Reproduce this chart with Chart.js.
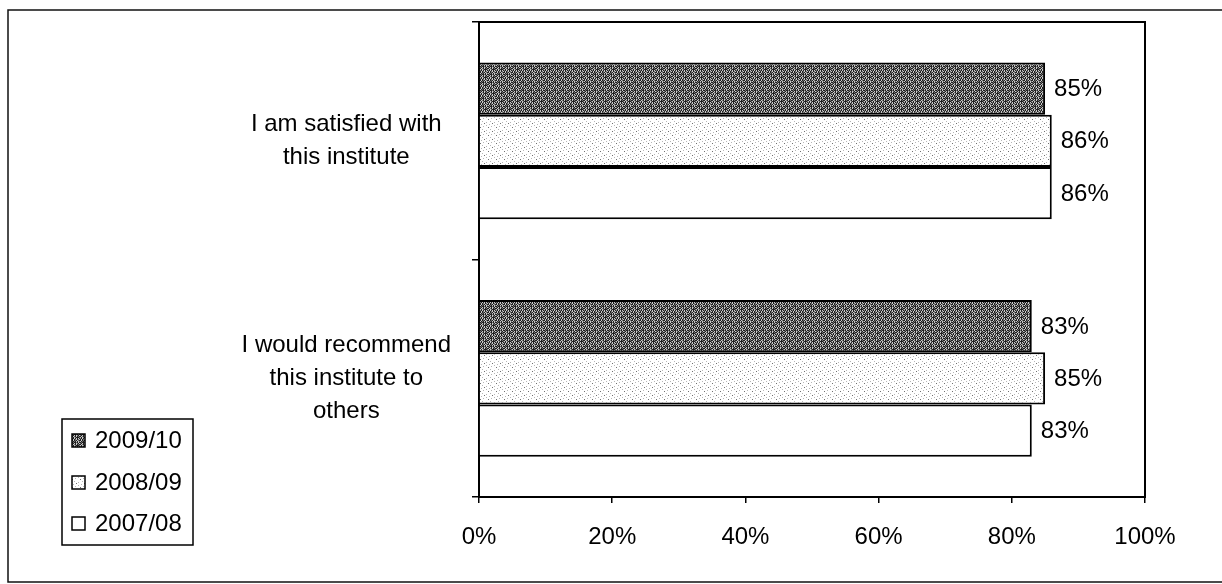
<!DOCTYPE html>
<html>
<head>
<meta charset="utf-8">
<script src="https://cdn.jsdelivr.net/npm/chart.js@4/dist/chart.umd.min.js"></script>
<style>
  html, body { margin: 0; padding: 0; background: #fff; }
  #wrap { width: 1222px; height: 584px; position: relative; }
</style>
</head>
<body>
<div id="wrap"><canvas id="c" width="1222" height="584"></canvas></div>
<script>
// Survey statements (multi-line labels) and yearly results in percent
const categories = [
  ['I am satisfied with', 'this institute'],
  ['I would recommend', 'this institute to', 'others']
];
const seriesNames = ['2009/10', '2008/09', '2007/08'];
const values2009_10 = [85, 83];
const values2008_09 = [86, 85];
const values2007_08 = [86, 83];
const xTickValues = [0, 20, 40, 60, 80, 100];

const FONT = '"Liberation Sans", Arial, sans-serif';

// Small tiled fills imitating printed halftone shading
function makeTile(rows, palette) {
  const c = document.createElement('canvas');
  c.width = rows[0].length;
  c.height = rows.length;
  const g = c.getContext('2d');
  rows.forEach((r, j) => {
    [...r].forEach((ch, i) => {
      g.fillStyle = palette[ch];
      g.fillRect(i, j, 1, 1);
    });
  });
  return g.createPattern(c, 'repeat');
}
const ctx = document.getElementById('c').getContext('2d');
const darkFill = makeTile([
  '#.#+#.+#',
  '.#+#.#.+',
  '#+##+#.#',
  '+#.#.+#.',
  '#.+#.#+#',
  '.#.+###+',
  '+#.#.#.#',
  '#.#+.#+.'
], { '#': '#202020', '.': '#c8c8c8', '+': '#707070' });
const lightFill = makeTile([
  '........',
  '..+.....',
  '......+.',
  '....#...',
  '.+......',
  '......+.',
  '...+....',
  '#.......'
], { '#': '#707070', '.': '#ffffff', '+': '#b8b8b8' });

const fills = [darkFill, lightFill, '#ffffff'];
const seriesValues = [values2009_10, values2008_09, values2007_08];

// Frame, plot box, value labels and legend
const decorations = {
  id: 'decorations',
  afterDraw(chart) {
    const c = chart.ctx;
    const a = chart.chartArea;
    c.save();
    // outer frame
    c.strokeStyle = '#111';
    c.lineWidth = 1.5;
    c.beginPath();
    c.moveTo(1222, 10); c.lineTo(8, 10); c.lineTo(8, 582); c.lineTo(1222, 582);
    c.stroke();
    // top and right edges of the plot box
    c.lineWidth = 2;
    c.strokeStyle = '#000';
    c.beginPath();
    c.moveTo(a.left - 1, a.top); c.lineTo(a.right, a.top); c.lineTo(a.right, a.bottom + 1);
    c.stroke();

    // value labels beside each bar
    c.fillStyle = '#000';
    c.font = '24px ' + FONT;
    c.textAlign = 'left';
    c.textBaseline = 'middle';
    chart.data.datasets.forEach((ds, di) => {
      const meta = chart.getDatasetMeta(di);
      meta.data.forEach((el, i) => {
        c.fillText(ds.data[i] + '%', el.x + 9, el.y + 1);
      });
    });

    // legend box
    c.lineWidth = 1.5;
    c.strokeStyle = '#000';
    c.strokeRect(62, 419, 131, 126);
    const rows = [440, 482, 523];
    chart.data.datasets.forEach((ds, di) => {
      const y = rows[di];
      c.fillStyle = ds.backgroundColor;
      c.fillRect(72, y - 6, 13, 13);
      c.lineWidth = 1.5;
      c.strokeRect(72, y - 6, 13, 13);
      c.fillStyle = '#000';
      c.fillText(ds.label, 95, y + 1);
    });
    c.restore();
  }
};

new Chart(ctx, {
  type: 'bar',
  data: {
    labels: categories,
    datasets: seriesNames.map((name, i) => ({
      label: name,
      data: seriesValues[i],
      backgroundColor: fills[i],
      borderColor: '#000',
      borderWidth: 2,
      borderSkipped: 'start',
      barPercentage: 1.0,
      categoryPercentage: 0.66
    }))
  },
  options: {
    indexAxis: 'y',
    responsive: false,
    animation: false,
    devicePixelRatio: 1,
    layout: { padding: { left: 10, right: 77, top: 22, bottom: 10 } },
    plugins: {
      legend: { display: false },
      tooltip: { enabled: false }
    },
    scales: {
      x: {
        min: 0,
        max: 100,
        afterBuildTicks(scale) {
          scale.ticks = xTickValues.map(v => ({ value: v }));
        },
        afterFit(scale) {
          scale.height = 77;
          scale.paddingLeft = 0;
          scale.paddingRight = 0;
        },
        border: { display: true, color: '#000', width: 2 },
        grid: { drawOnChartArea: false, drawTicks: true, tickLength: 6, color: '#000', lineWidth: 1.5 },
        ticks: {
          color: '#000',
          font: { family: FONT, size: 24 },
          padding: 20,
          maxRotation: 0,
          callback: v => v + '%'
        }
      },
      y: {
        afterFit(scale) {
          scale.width = 469;
          scale.paddingTop = 0;
          scale.paddingBottom = 0;
        },
        border: { display: true, color: '#000', width: 2 },
        grid: { drawOnChartArea: false, drawTicks: true, tickLength: 7, color: '#000', lineWidth: 1.5, offset: true },
        ticks: {
          color: '#000',
          font: { family: FONT, size: 24, lineHeight: 1.38 },
          padding: 21,
          crossAlign: 'center'
        }
      }
    }
  },
  plugins: [decorations]
});
</script>
</body>
</html>
